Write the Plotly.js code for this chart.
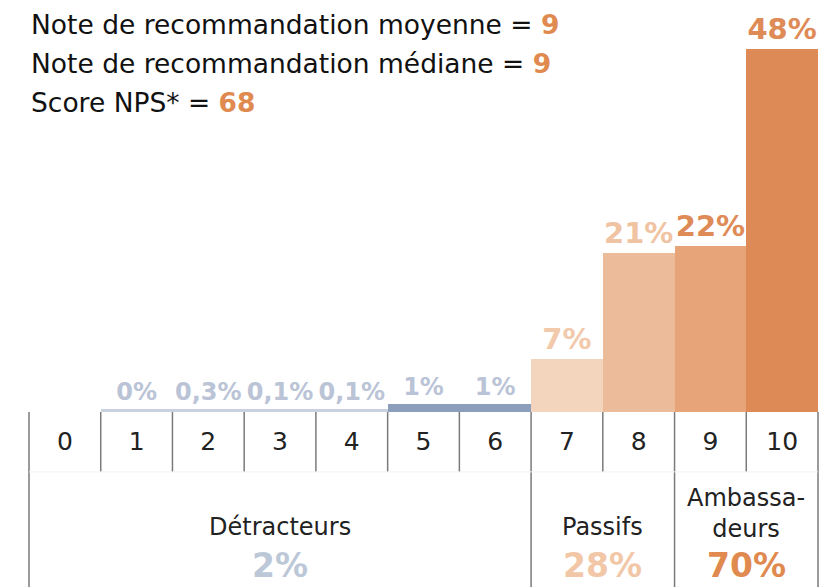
<!DOCTYPE html>
<html>
<head>
<meta charset="utf-8">
<script src="https://cdn.plot.ly/plotly-3.0.1.min.js"></script>
<style>
  html, body { margin: 0; padding: 0; background: #fff; }
  #plot { width: 820px; height: 587px; }
</style>
</head>
<body>
<div id="plot"></div>
<script>
// recommendation scores 0..10 and share of answers (%)
var notes = [0, 1, 2, 3, 4, 5, 6, 7, 8, 9, 10];
var pcts = [null, 0, 0.3, 0.1, 0.1, 1, 1, 7, 21, 22, 48];
var pctLabels = ['', '0%', '0,3%', '0,1%', '0,1%', '1%', '1%', '7%', '21%', '22%', '48%'];

// NPS groups
var groupNames = ['Détracteurs', 'Passifs', 'Ambassa-<br>deurs'];
var groupPcts = ['2%', '28%', '70%'];
var groupFirst = [0, 7, 9];
var groupLast = [6, 8, 10];

var moyenne = 9;
var mediane = 9;
var nps = 68;

var barColors = ['#ffffff', '#c9d1e0', '#c9d1e0', '#c9d1e0', '#c9d1e0', '#8b9ebb', '#8b9ebb',
  '#f3d4bd', '#ecbb99', '#e6a478', '#de8a56'];
var labelColors = ['#ffffff', '#bac4d6', '#bac4d6', '#bac4d6', '#bac4d6', '#bac4d6', '#bac4d6',
  '#f2caab', '#f0c3a2', '#de8b57', '#de8b57'];
var labelSizes = notes.map(function (n) { return n < 7 ? 24 : 29; });
var groupColors = ['#bcc7d8', '#f2c7a7', '#e08a50'];
var orange = '#e08a50';

// tiny shares get a thin visible bar
var shown = pcts.map(function (v) { return v === null ? null : Math.max(v, 0.45); });

var n = notes.length;
var FONT = 'DejaVu Sans';

var trace = {
  type: 'bar',
  x: notes,
  y: shown,
  marker: { color: barColors, line: { width: 0 } },
  text: pctLabels,
  textposition: 'outside',
  cliponaxis: false,
  textfont: { family: FONT, weight: 'bold', color: labelColors, size: labelSizes },
  hoverinfo: 'skip'
};

var shapes = [];
var fullLines = [0, 7, 9, 11];
for (var k = 0; k <= n; k++) {
  var full = fullLines.indexOf(k) >= 0;
  shapes.push({
    type: 'line', xref: 'paper', yref: 'paper',
    x0: k / n, x1: k / n, y0: 0, y1: full ? -0.44 : -0.149,
    line: { color: '#7a7a7a', width: 1.5 }
  });
}
shapes.push({
  type: 'line', xref: 'paper', yref: 'paper', x0: 0, x1: 1, y0: -0.149, y1: -0.149,
  line: { color: '#f2f2f2', width: 1 }
});

var annotations = [];
var header = [
  'Note de recommandation moyenne = <span style="color:' + orange + '"><b>' + moyenne + '</b></span>',
  'Note de recommandation médiane = <span style="color:' + orange + '"><b>' + mediane + '</b></span>',
  'Score NPS* = <span style="color:' + orange + '"><b>' + nps + '</b></span>'
];
var headerY = [0.963, 0.868, 0.771];
header.forEach(function (t, i) {
  annotations.push({
    xref: 'paper', yref: 'paper', x: 0, y: headerY[i], xanchor: 'left', yanchor: 'middle',
    text: t, showarrow: false, font: { family: FONT, size: 26.5, color: '#111' }
  });
});

groupNames.forEach(function (g, i) {
  var xc = (groupFirst[i] + groupLast[i]) / 2;
  annotations.push({
    xref: 'x', yref: 'paper', x: xc, y: -0.286, yanchor: i === 2 ? 'bottom' : 'middle',
    yshift: i === 2 ? -18 : 0,
    text: g, showarrow: false, font: { family: FONT, size: 24, color: '#222' }
  });
  annotations.push({
    xref: 'x', yref: 'paper', x: xc, y: -0.381, yanchor: 'middle',
    text: '<b>' + groupPcts[i] + '</b>', showarrow: false,
    font: { family: FONT, size: 33, color: groupColors[i] }
  });
});

var layout = {
  width: 820,
  height: 587,
  margin: { l: 29, r: 2, t: 10, b: 175 },
  paper_bgcolor: '#fff',
  plot_bgcolor: '#fff',
  showlegend: false,
  bargap: 0,
  xaxis: {
    range: [-0.5, 10.5],
    tickvals: notes,
    ticktext: notes.map(String),
    ticks: '',
    ticklabelstandoff: 12,
    tickfont: { family: FONT, size: 25, color: '#222' },
    showgrid: false, zeroline: false, showline: false, fixedrange: true
  },
  yaxis: {
    range: [0, 53.2],
    visible: false, showgrid: false, zeroline: false, fixedrange: true
  },
  shapes: shapes,
  annotations: annotations
};

Plotly.newPlot('plot', [trace], layout, { displayModeBar: false, staticPlot: true });
</script>
</body>
</html>
